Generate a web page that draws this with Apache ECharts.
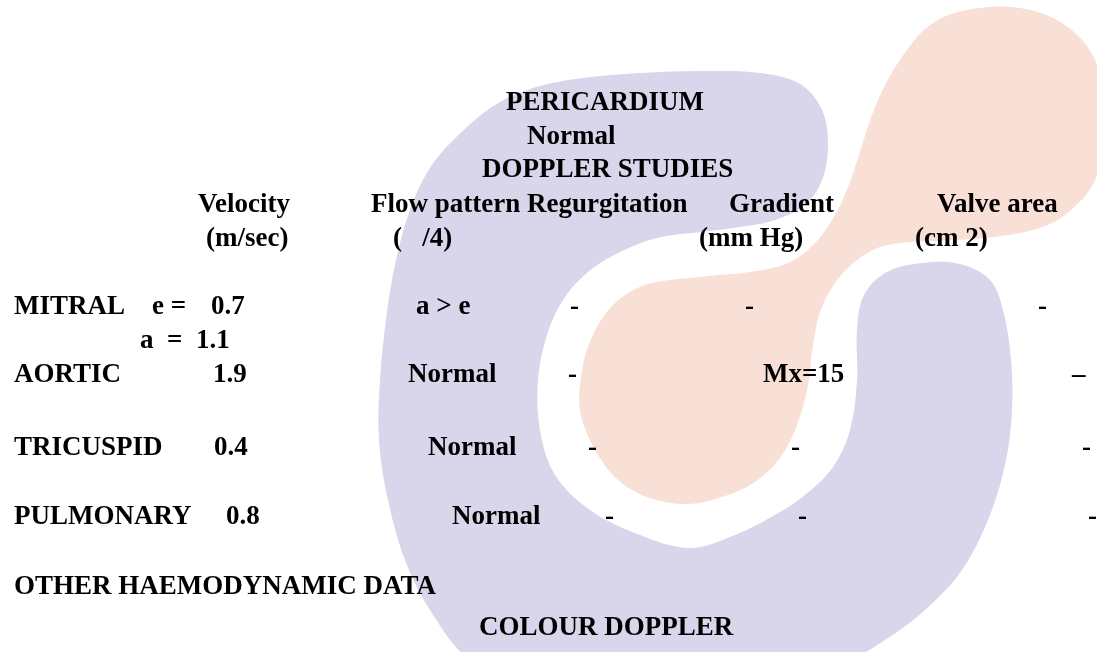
<!DOCTYPE html>
<html>
<head>
<meta charset="utf-8">
<script src="https://cdn.jsdelivr.net/npm/echarts@6/dist/echarts.min.js"></script>
<style>
html,body{margin:0;padding:0;background:#fff;}
#chart{width:1097px;height:652px;}
</style>
</head>
<body>
<div id="chart"></div>
<script>
// ---- Data (text content of the report) ----
const titleLines = ['PERICARDIUM', 'Normal', 'DOPPLER STUDIES'];
const headers = ['Velocity', 'Flow pattern', 'Regurgitation', 'Gradient', 'Valve area'];
const units = ['(m/sec)', '(   /4)', '', '(mm Hg)', '(cm 2)'];
const valves = ['MITRAL', 'AORTIC', 'TRICUSPID', 'PULMONARY'];
const velocityPrefix = ['e =', '', '', ''];
const velocity = ['0.7', '1.9', '0.4', '0.8'];
const mitralA = 'a  =  1.1';
const flowPattern = ['a > e', 'Normal', 'Normal', 'Normal'];
const regurgitation = ['-', '-', '-', '-'];
const gradient = ['-', 'Mx=15', '-', '-'];
const valveArea = ['-', '\u2013', '-', '-'];
const footerLines = ['OTHER HAEMODYNAMIC DATA', 'COLOUR DOPPLER'];

// ---- Layout (positions, kept separate from data) ----
const FONT = 'bold 27px "Liberation Serif", "Times New Roman", serif';
const titlePos = [[506, 103], [527, 137], [482, 170]];
const headerX = [198, 371, 527, 729, 937];
const headerY = 205;
const unitX = [206, 393, 0, 699, 915];
const unitY = 239;
const rowY = [307, 375, 448, 517];
const mitralAY = 341;
const labelX = 14;
const prefixX = [152, 0, 0, 0];
const velX = [211, 213, 214, 226];
const flowX = [416, 408, 428, 452];
const regX = [570, 568, 588, 605];
const gradX = [745, 763, 791, 798];
const areaX = [1038, 1072, 1082, 1088];
const footerPos = [[14, 587], [479, 628]];

// Watermark logo (decorative background shapes)
const purpleLogo = [[466,128],[500,102],[540,86],[583,78],[640,73],[700,71],[760,73],[800,84],[822,110],[828,145],[822,180],[805,205],[775,220],[740,227],[700,232],[657,238],[620,252],[588,272],[563,300],[547,335],[538,380],[540,430],[555,475],[590,510],[640,535],[690,548],[735,535],[775,515],[805,495],[833,467],[850,430],[857,380],[857,330],[864,295],[887,272],[922,263],[960,264],[990,280],[1003,310],[1011,360],[1012,410],[1006,460],[990,515],[962,570],[925,610],[885,640],[840,665],[760,690],[650,700],[540,690],[470,660],[430,610],[405,560],[388,500],[379,440],[380,380],[386,320],[395,265],[410,210],[432,165]];
const peachLogo = [[900,60],[930,25],[967,10],[1020,8],[1065,25],[1095,60],[1105,120],[1095,180],[1065,215],[1033,230],[985,238],[935,241],[900,243],[873,250],[843,273],[822,307],[813,345],[808,385],[797,425],[780,458],[755,482],[725,496],[688,504],[650,498],[618,480],[594,448],[580,410],[582,370],[592,337],[612,306],[645,285],[700,277],[757,271],[790,262],[815,243],[835,215],[850,182],[862,145],[878,100]];

const PURPLE = '#d9d5ea';
const PEACH = '#f9e0d6';

function txt(t, x, y) {
  return { type: 'text', x: x, y: y, z: 10,
    style: { text: t, font: FONT, fill: '#000', align: 'left', verticalAlign: 'middle' } };
}

const elements = [];
elements.push({ type: 'polygon', z: 1, shape: { points: purpleLogo, smooth: 0.35 }, style: { fill: PURPLE } });
elements.push({ type: 'polygon', z: 2, shape: { points: peachLogo, smooth: 0.35 }, style: { fill: PEACH } });

titleLines.forEach((t, i) => elements.push(txt(t, titlePos[i][0], titlePos[i][1])));
headers.forEach((t, i) => elements.push(txt(t, headerX[i], headerY)));
units.forEach((t, i) => { if (t) elements.push(txt(t, unitX[i], unitY)); });
valves.forEach((v, i) => {
  const y = rowY[i];
  elements.push(txt(v, labelX, y));
  if (velocityPrefix[i]) elements.push(txt(velocityPrefix[i], prefixX[i], y));
  elements.push(txt(velocity[i], velX[i], y));
  elements.push(txt(flowPattern[i], flowX[i], y));
  elements.push(txt(regurgitation[i], regX[i], y));
  elements.push(txt(gradient[i], gradX[i], y));
  elements.push(txt(valveArea[i], areaX[i], y));
});
elements.push(txt(mitralA, 140, mitralAY));
footerLines.forEach((t, i) => elements.push(txt(t, footerPos[i][0], footerPos[i][1])));

const chart = echarts.init(document.getElementById('chart'), null, { renderer: 'canvas' });
chart.setOption({
  backgroundColor: '#ffffff',
  animation: false,
  graphic: { elements: elements }
});
</script>
</body>
</html>
